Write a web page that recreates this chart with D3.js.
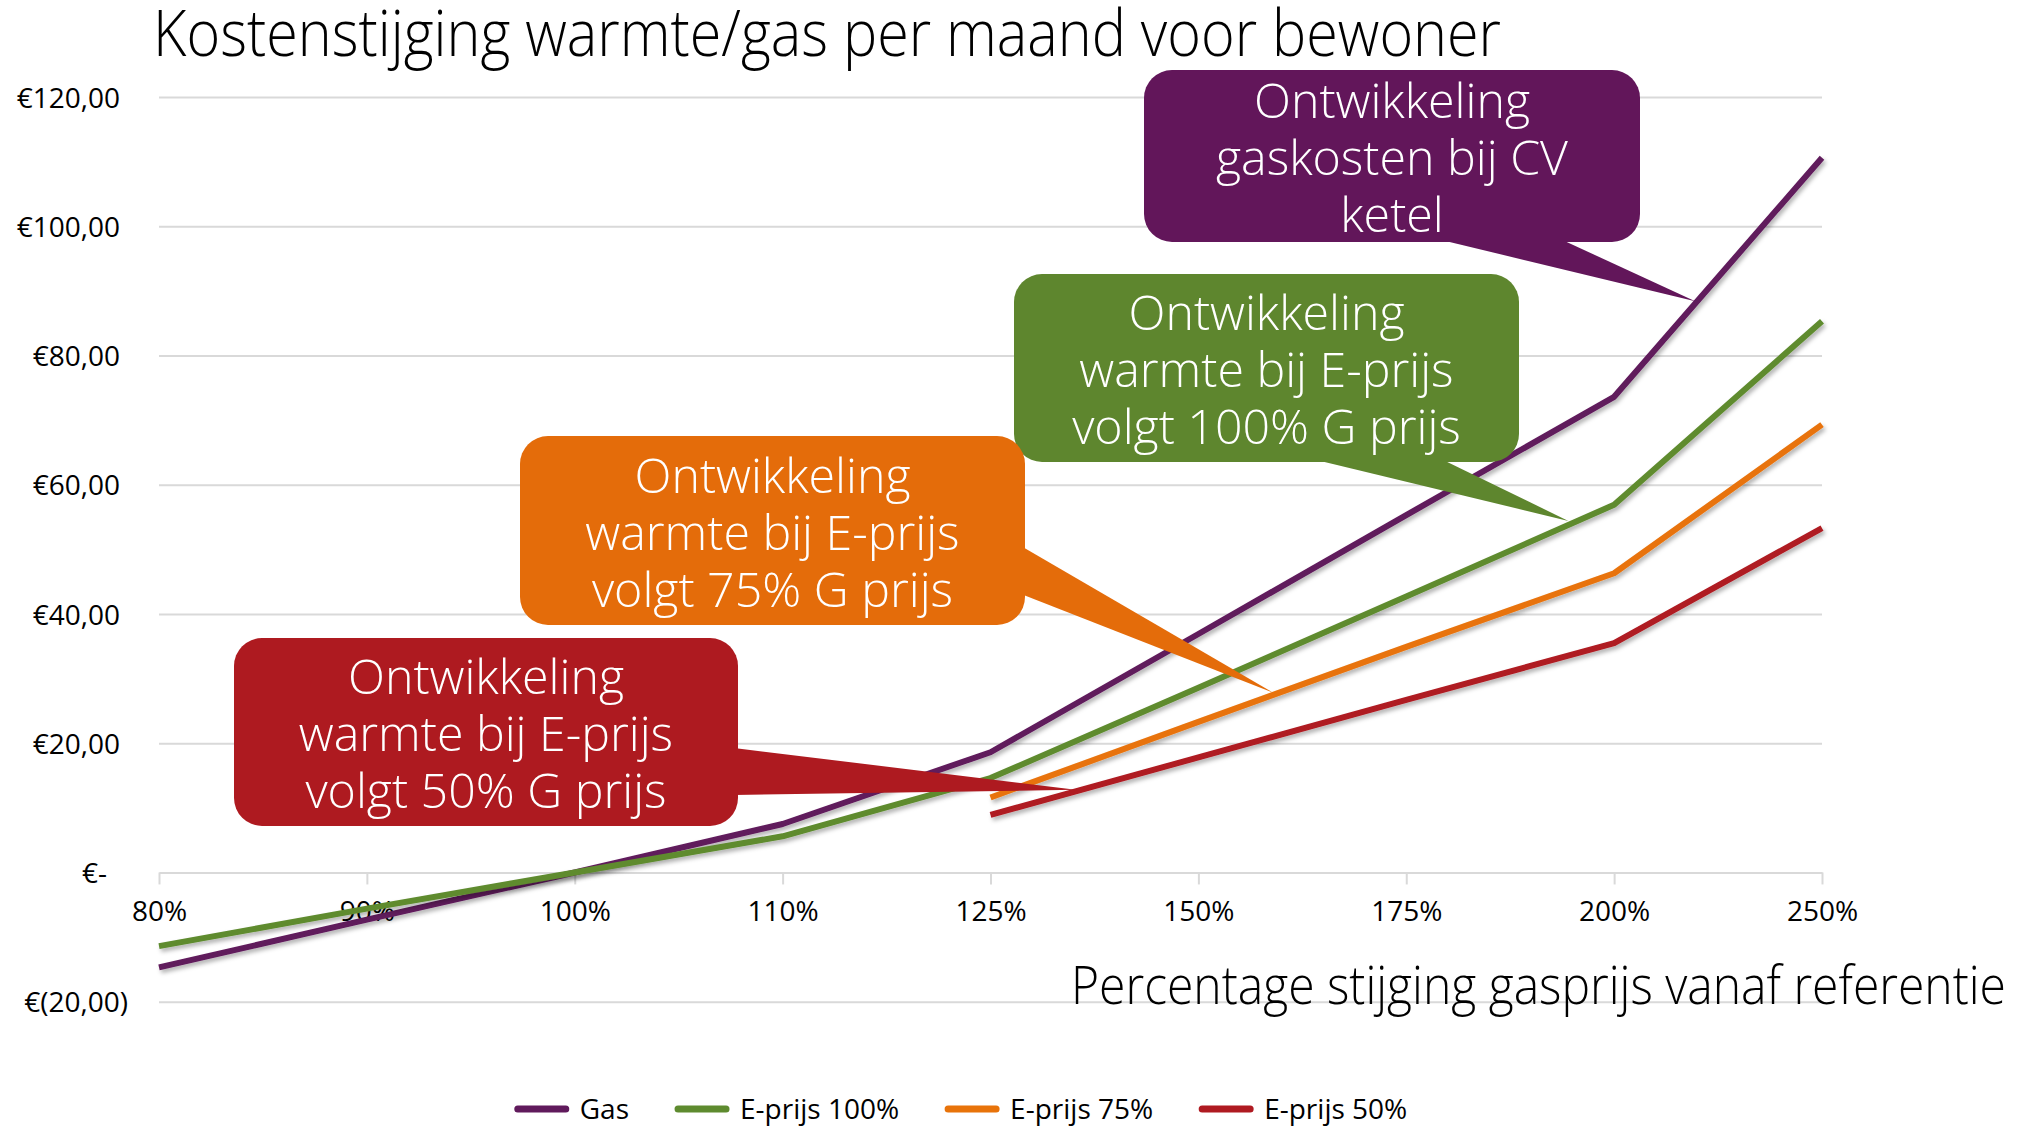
<!DOCTYPE html>
<html>
<head>
<meta charset="utf-8">
<script src="https://cdn.jsdelivr.net/npm/d3@7"></script>
<style>
  body { margin: 0; background: #fff; }
  svg { display: block; }
  text { font-family: "Open Sans", "Noto Sans", sans-serif; }
</style>
</head>
<body>
<div id="chart"></div>
<script>
// ---- data ----
const categories = ["80%", "90%", "100%", "110%", "125%", "150%", "175%", "200%", "250%"];
const gasValues = [-14.7, -7.3, 0, 7.5, 18.6, 36.9, 55.3, 73.6, 110.6];
const eprijs100Values = [-11.4, -5.6, 0, 5.6, 14.6, 28.6, 42.7, 56.9, 85.3];
const eprijs75Values = [null, null, null, null, 11.6, 23.3, 34.9, 46.3, 69.3];
const eprijs50Values = [null, null, null, null, 8.9, 17.8, 26.7, 35.5, 53.3];
const seriesNames = ["Gas", "E-prijs 100%", "E-prijs 75%", "E-prijs 50%"];
const yTicks = [-20, 0, 20, 40, 60, 80, 100, 120];

const titleText = "Kostenstijging warmte/gas per maand voor bewoner";
const xTitleText = "Percentage stijging gasprijs vanaf referentie";

// callout texts, and where on the data each one points (category index + fraction, value)
const calloutLines = [
  ["Ontwikkeling", "gaskosten bij CV", "ketel"],
  ["Ontwikkeling", "warmte bij E-prijs", "volgt 100% G prijs"],
  ["Ontwikkeling", "warmte bij E-prijs", "volgt 75% G prijs"],
  ["Ontwikkeling", "warmte bij E-prijs", "volgt 50% G prijs"]
];
const calloutTargets = [[7.39, 88.4], [6.78, 54.4], [5.36, 27.8], [4.41, 12.8]];

const seriesColors = ["#601A5C", "#5E8B2F", "#E8730A", "#AF1A21"];
const calloutColors = ["#62165A", "#5E862E", "#E46C0A", "#AE1A20"];

// ---- layout ----
const width = 2029, height = 1126;
const plotLeft = 159, plotRight = 1822;

const svg = d3.select("#chart")
  .append("svg")
  .attr("width", width)
  .attr("height", height);

const defs = svg.append("defs");
defs.append("filter")
  .attr("id", "shadow")
  .attr("x", "-10%").attr("y", "-10%")
  .attr("width", "120%").attr("height", "120%")
  .append("feDropShadow")
  .attr("dx", 2).attr("dy", 3)
  .attr("stdDeviation", 2)
  .attr("flood-color", "#000")
  .attr("flood-opacity", 0.3);

const x = d3.scalePoint().domain(categories).range([plotLeft, plotRight]);
const y = d3.scaleLinear().domain([-20, 120]).range([1001.7, 97]);

const nl = d3.formatLocale({ decimal: ",", thousands: ".", grouping: [3], currency: ["€", ""] });
const fmt = nl.format(".2f");
const yLabel = v => v === 0 ? "€-" : v < 0 ? `€(${fmt(-v)})` : `€${fmt(v)}`;

// gridlines + y labels
const yAxis = svg.append("g")
  .attr("transform", `translate(${plotLeft},0)`)
  .call(d3.axisLeft(y).tickValues(yTicks).tickSize(-(plotRight - plotLeft)).tickFormat(yLabel));
yAxis.select(".domain").remove();
yAxis.selectAll(".tick line")
  .attr("stroke", "#d9d9d9")
  .attr("stroke-width", 2)
  .attr("opacity", d => d === 0 ? 0 : 1);
yAxis.selectAll(".tick text")
  .attr("x", d => d === 0 ? -52 : d < 0 ? -31 : -39)
  .attr("dy", "0.36em")
  .attr("fill", "#000")
  .style("font-size", "28px");

// x axis at zero
const xAxis = svg.append("g")
  .attr("transform", `translate(0,${y(0)})`)
  .call(d3.axisBottom(x).tickSize(12).tickSizeOuter(0).tickPadding(17));
xAxis.select(".domain").attr("stroke", "#d9d9d9").attr("stroke-width", 2);
xAxis.selectAll(".tick line").attr("stroke", "#d9d9d9").attr("stroke-width", 2);
xAxis.selectAll(".tick text")
  .attr("fill", "#000")
  .style("font-size", "28px");

// lines
const allSeries = [gasValues, eprijs100Values, eprijs75Values, eprijs50Values];
const line = d3.line()
  .defined(d => d.v !== null)
  .x(d => x(d.c))
  .y(d => y(d.v));

svg.append("g")
  .selectAll("path")
  .data(allSeries.map((vals, i) => ({ i, pts: vals.map((v, k) => ({ c: categories[k], v })) })))
  .enter()
  .append("path")
  .attr("d", d => line(d.pts))
  .attr("fill", "none")
  .attr("stroke", d => seriesColors[d.i])
  .attr("stroke-width", 6)
  .attr("stroke-linejoin", "round")
  .attr("filter", "url(#shadow)");

// callouts: box rect, pointer base, and text
const calloutBoxes = [
  { x0: 1144, y0: 70, x1: 1640, y1: 242, side: "bottom", b: [1433, 1558] },
  { x0: 1014, y0: 274, x1: 1519, y1: 462, side: "bottom", b: [1308, 1439] },
  { x0: 520, y0: 436, x1: 1025, y1: 625, side: "right", b: [546, 594] },
  { x0: 234, y0: 638, x1: 738, y1: 826, side: "right", b: [748, 795] }
];
const step = x.step();

// measure callout font to condense it to the reference width
const probe = svg.append("text").style("font-size", "48px").style("font-weight", 300).text("Ontwikkeling");
const calloutSquash = 276 / probe.node().getComputedTextLength();
probe.remove();

const callouts = svg.append("g");
calloutBoxes.forEach((bx, i) => {
  const [ci, val] = calloutTargets[i];
  const tx = x(categories[Math.floor(ci)]) + (ci - Math.floor(ci)) * step;
  const ty = y(val);
  const g = callouts.append("g");
  let pts;
  if (bx.side === "bottom") {
    pts = [[bx.b[0], bx.y1 - 4], [tx, ty], [bx.b[1], bx.y1 - 4]];
  } else {
    pts = [[bx.x1 - 4, bx.b[0]], [tx, ty], [bx.x1 - 4, bx.b[1]]];
  }
  g.append("path")
    .attr("d", "M" + pts.map(p => p.join(",")).join("L") + "Z")
    .attr("fill", calloutColors[i]);
  g.append("rect")
    .attr("x", bx.x0).attr("y", bx.y0)
    .attr("width", bx.x1 - bx.x0).attr("height", bx.y1 - bx.y0)
    .attr("rx", 28)
    .attr("fill", calloutColors[i]);
  const cx = (bx.x0 + bx.x1) / 2, cy = (bx.y0 + bx.y1) / 2;
  calloutLines[i].forEach((t, k) => {
    const tt = g.append("text")
      .attr("x", cx)
      .attr("y", cy + 19 + (k - 1) * 57)
      .attr("text-anchor", "middle")
      .attr("fill", "#fff")
      .style("font-size", "48px")
      .style("font-weight", 300)
      .text(t);
    const w = tt.node().getComputedTextLength();
    tt.attr("textLength", w * calloutSquash).attr("lengthAdjust", "spacingAndGlyphs");
  });
});

// title
svg.append("text")
  .attr("x", 153).attr("y", 56)
  .attr("fill", "#000")
  .style("font-size", "64px")
  .style("font-weight", 300)
  .attr("textLength", 1348)
  .attr("lengthAdjust", "spacingAndGlyphs")
  .text(titleText);

// x axis title
svg.append("text")
  .attr("x", 1071).attr("y", 1004)
  .attr("fill", "#000")
  .style("font-size", "54px")
  .style("font-weight", 300)
  .attr("textLength", 935)
  .attr("lengthAdjust", "spacingAndGlyphs")
  .text(xTitleText);

// legend
const legend = svg.append("g");
let lx = 0;
seriesNames.forEach((name, i) => {
  const g = legend.append("g");
  g.append("line")
    .attr("x1", 3).attr("x2", 51)
    .attr("stroke", seriesColors[i])
    .attr("stroke-width", 7)
    .attr("stroke-linecap", "round");
  const t = g.append("text")
    .attr("x", 65).attr("dy", "0.36em")
    .attr("fill", "#000")
    .style("font-size", "28px")
    .text(name);
  const w = 65 + t.node().getComputedTextLength();
  g.attr("transform", `translate(${lx},0)`);
  lx += w + 46;
});
const legendWidth = lx - 46;
legend.attr("transform", `translate(${961 - legendWidth / 2},1109)`);
</script>
</body>
</html>
